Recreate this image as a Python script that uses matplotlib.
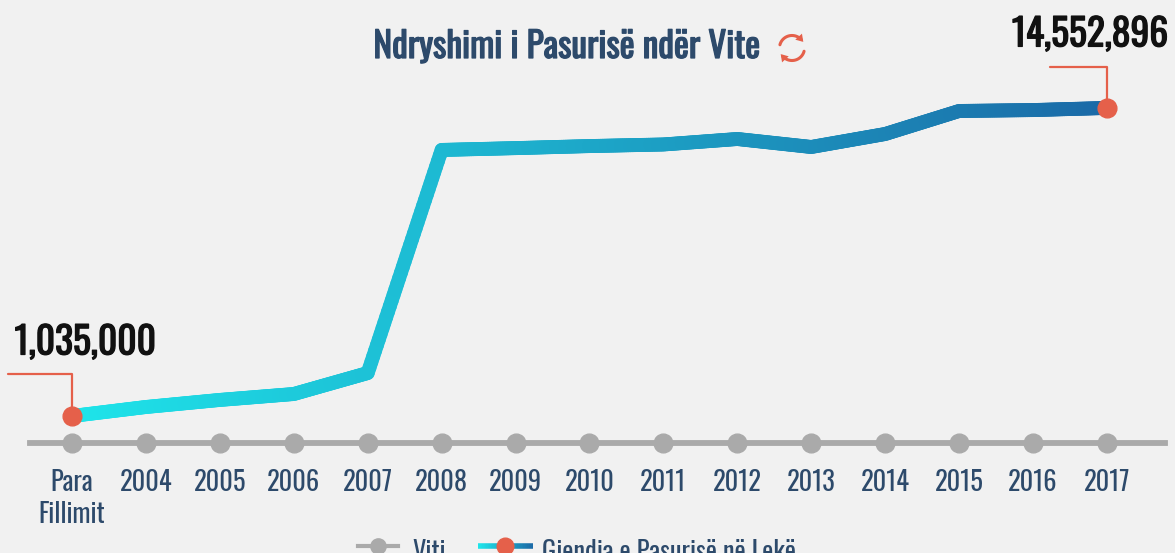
import numpy as np
import matplotlib
matplotlib.use("Agg")
import matplotlib.pyplot as plt
from matplotlib import font_manager
from matplotlib import patheffects as pe
from matplotlib.collections import LineCollection
from matplotlib.colors import LinearSegmentedColormap
from matplotlib.patches import Polygon

# ---------------- data ----------------
categories = ["Para\nFillimit", "2004", "2005", "2006", "2007", "2008", "2009",
              "2010", "2011", "2012", "2013", "2014", "2015", "2016", "2017"]
wealth = [1035000, 1430000, 1740000, 2000000, 2920000, 12710000, 12790000,
          12880000, 12950000, 13190000, 12840000, 13410000, 14420000,
          14460000, 14552896]
title = "Ndryshimi i Pasurisë ndër Vite"
legend_labels = ["Viti", "Gjendja e Pasurisë në Lekë"]

# ---------------- style ----------------
BG = "#f1f1f1"
NAVY = "#2d4a6b"
GRAY = "#aaaaaa"
ORANGE = "#e5604a"
C0, C1 = "#1ee5ea", "#1b6aa7"

avail = {f.name for f in font_manager.fontManager.ttflist}
FONT = "DejaVu Sans"
for cand in ["Oswald", "Roboto Condensed", "Liberation Sans Narrow", "DejaVu Sans"]:
    if cand in avail:
        FONT = cand
        break
plt.rcParams["font.family"] = [FONT, "DejaVu Sans"]

W, H = 1175, 553
fig = plt.figure(figsize=(W / 100, H / 100), dpi=100, facecolor=BG)
ax = fig.add_axes([30 / W, (H - 443) / H, (1165 - 30) / W, 443 / H])
ax.set_facecolor(BG)

x = np.arange(len(categories))
y = np.array(wealth, dtype=float)
ax.set_xlim(-0.568, 14.785)
ylo = -0.15e6
ax.set_ylim(ylo, 19.29e6)

for s in ["top", "left", "right"]:
    ax.spines[s].set_visible(False)
ax.spines["bottom"].set_color(GRAY)
ax.spines["bottom"].set_linewidth(4.2)
ax.set_yticks([])
ax.set_xticks(x, categories)
ax.tick_params(axis="x", length=0, pad=19, labelsize=19, labelcolor=NAVY)

# gray markers on the axis
ax.plot(x, np.full(len(x), ylo), "o", ms=13.5, color=GRAY, clip_on=False, zorder=4)

# gradient line
cmap = LinearSegmentedColormap.from_list("g", [C0, C1])
xs, ys = [], []
for i in range(len(x) - 1):
    t = np.linspace(0, 1, 40, endpoint=False)
    xs.extend(x[i] + t * (x[i + 1] - x[i]))
    ys.extend(y[i] + t * (y[i + 1] - y[i]))
xs.append(x[-1]); ys.append(y[-1])
xs = np.array(xs); ys = np.array(ys)
pts = np.column_stack([xs, ys]).reshape(-1, 1, 2)
segs = np.concatenate([pts[:-1], pts[1:]], axis=1)
mid = (xs[:-1] + xs[1:]) / 2
cols = cmap((mid - x[0]) / (x[-1] - x[0]))
lc = LineCollection(segs, colors=cols, linewidths=10, capstyle="round",
                    joinstyle="round", zorder=3)
ax.add_collection(lc)

# end points
ends = [0, len(x) - 1]
ax.plot(x[ends], y[ends], "o", ms=13.5, color=ORANGE, zorder=5)

bold_black = [pe.withStroke(linewidth=0.9, foreground="#111111")]
# annotations
ann = [(0, (-64, 42), (13, 73)), (len(x) - 1, (-57, 41), (-17, 73))]
for idx, cpx, tpx in ann:
    ax.annotate("", xy=(x[idx], y[idx]), xytext=(cpx[0] * 0.72, cpx[1] * 0.72),
                textcoords="offset points",
                arrowprops=dict(arrowstyle="-", color=ORANGE, lw=1.6,
                                connectionstyle="angle,angleA=0,angleB=90,rad=0",
                                shrinkA=0, shrinkB=0), zorder=2)
    ax.annotate(f"{wealth[idx]:,}", xy=(x[idx], y[idx]),
                xytext=(tpx[0] * 0.72, tpx[1] * 0.72), textcoords="offset points",
                ha="center", va="center", fontsize=27, fontweight="bold",
                color="#111111", annotation_clip=False, path_effects=bold_black)

# title
fig.text(567 / W, 1 - 47 / H, title, ha="center", va="center", fontsize=25.5,
         fontweight="bold", color=NAVY,
         path_effects=[pe.withStroke(linewidth=0.9, foreground=NAVY)])

# overlay in pixel coordinates for icon and legend
ov = fig.add_axes([0, 0, 1, 1])
ov.set_xlim(0, W); ov.set_ylim(H, 0)
ov.axis("off")
ov.patch.set_alpha(0)

# refresh icon
cx, cy, r = 792, 48, 12.5
def arc(a0, a1):
    a = np.radians(np.linspace(a0, a1, 40))
    return cx + r * np.cos(a), cy + r * np.sin(a)
for a0, a1 in [(195, 318), (15, 138)]:
    ax_, ay_ = arc(a0, a1)
    ov.plot(ax_, ay_, color=ORANGE, lw=2.2, solid_capstyle="round")
    ex, ey = ax_[-1], ay_[-1]
    ang = np.radians(a1 + 90)
    tx, ty = np.cos(ang), np.sin(ang)
    nx, ny = -ty, tx
    L, Wd = 7, 4.5
    tip = (ex + tx * 3, ey + ty * 3)
    b1 = (ex - tx * (L - 3) + nx * Wd, ey - ty * (L - 3) + ny * Wd)
    b2 = (ex - tx * (L - 3) - nx * Wd, ey - ty * (L - 3) - ny * Wd)
    ov.add_patch(Polygon([tip, b1, b2], closed=True, color=ORANGE, lw=0))

# legend
ov.plot([358, 398], [546, 546], color=GRAY, lw=3)
ov.plot([378], [546], "o", color=GRAY, ms=11)
ov.text(412, 561, legend_labels[0], va="baseline", ha="left", fontsize=19, color=NAVY)
lx = np.linspace(478, 533, 40)
lpts = np.column_stack([lx, np.full_like(lx, 546)]).reshape(-1, 1, 2)
lsegs = np.concatenate([lpts[:-1], lpts[1:]], axis=1)
ov.add_collection(LineCollection(lsegs, colors=cmap(np.linspace(0, 1, len(lsegs))),
                                 linewidths=4))
ov.plot([505], [546], "o", color=ORANGE, ms=12)
ov.text(542, 561, legend_labels[1], va="baseline", ha="left", fontsize=19, color=NAVY)

fig.savefig("out.png", dpi=100, facecolor=BG)
